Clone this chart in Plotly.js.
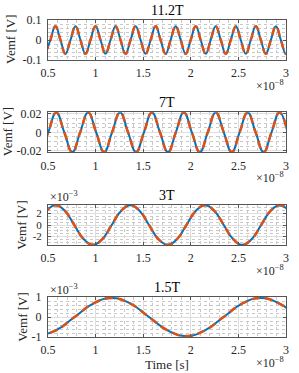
<!DOCTYPE html>
<html>
<head>
<meta charset="utf-8">
<script src="https://cdn.plot.ly/plotly-3.0.1.min.js"></script>
<style>html,body{margin:0;padding:0;background:#fff;}#chart{width:299px;height:373px;}</style>
</head>
<body>
<div id="chart"></div>
<script>
// Time in units of 1e-8 s
const time112 = [0.473,0.525,0.578,0.631,0.683,0.736,0.789,0.841,0.894,0.946,0.999,1.052,1.104,1.157,1.210,1.262,1.315,1.367,1.420,1.473,1.525,1.578,1.631,1.683,1.736,1.788,1.841,1.894,1.946,1.999,2.052,2.104,2.157,2.209,2.262,2.315,2.367,2.420,2.473,2.525,2.578,2.630,2.683,2.736,2.788,2.841,2.894,2.946,2.999,3.051];
const vemf112 = [-0.069,0,0.069,0,-0.069,0,0.069,0,-0.069,0,0.069,0,-0.069,0,0.069,0,-0.069,0,0.069,0,-0.069,0,0.069,0,-0.069,0,0.069,0,-0.069,0,0.069,0,-0.069,0,0.069,0,-0.069,0,0.069,0,-0.069,0,0.069,0,-0.069,0,0.069,0,-0.069,0];

const time7 = [0.420,0.503,0.587,0.671,0.755,0.838,0.922,1.006,1.090,1.173,1.257,1.341,1.425,1.508,1.592,1.676,1.760,1.843,1.927,2.011,2.095,2.178,2.262,2.346,2.430,2.513,2.597,2.681,2.765,2.848,2.932,3.016];
const vemf7 = [-0.0213,0,0.0213,0,-0.0213,0,0.0213,0,-0.0213,0,0.0213,0,-0.0213,0,0.0213,0,-0.0213,0,0.0213,0,-0.0213,0,0.0213,0,-0.0213,0,0.0213,0,-0.0213,0,0.0213,0];

// Vemf in units of 1e-3 V
const time3 = [0.384,0.482,0.580,0.678,0.776,0.874,0.973,1.071,1.169,1.267,1.365,1.463,1.561,1.659,1.758,1.856,1.954,2.052,2.150,2.248,2.346,2.444,2.543,2.641,2.739,2.837,2.935,3.033,3.131];
const vemf3 = [0,2.42,3.42,2.42,0,-2.42,-3.42,-2.42,0,2.42,3.42,2.42,0,-2.42,-3.42,-2.42,0,2.42,3.42,2.42,0,-2.42,-3.42,-2.42,0,2.42,3.42,2.42,0];

const time15 = [0.388,0.583,0.779,0.974,1.170,1.366,1.561,1.757,1.953,2.148,2.344,2.539,2.735,2.931,3.126];
const vemf15 = [-0.95,-0.67,0,0.67,0.95,0.67,0,-0.67,-0.95,-0.67,0,0.67,0.95,0.67,0];

const titles = ['11.2T','7T','3T','1.5T'];
const xTicks = [0.5,1,1.5,2,2.5,3];
const xTickText = ['0.5','1','1.5','2','2.5','3'];
const yTicks = [[-0.1,0,0.1],[-0.02,0,0.02],[-2,0,2],[-1,0,1]];
const yTickText = [['-0.1','0','0.1'],['-0.02','0','0.02'],['-2','0','2'],['-1','0','1']];

const series = [[time112,vemf112],[time7,vemf7],[time3,vemf3],[time15,vemf15]];
const blue = '#0072BD', orange = '#D95319';
const traces = [];
series.forEach((s,i)=>{
  const ax = i===0 ? '' : String(i+1);
  traces.push({x:s[0], y:s[1], xaxis:'x'+ax, yaxis:'y'+ax, mode:'lines', showlegend:false,
    line:{color:blue, width:2, shape:'spline', smoothing:1.3}});
  traces.push({x:s[0], y:s[1], xaxis:'x'+ax, yaxis:'y'+ax, mode:'lines', showlegend:false,
    line:{color:orange, width:2.5, dash:'8px,5px', shape:'spline', smoothing:1.3}});
});

const H = 373;
const py = p => 1 - p/H;
const boxes = [[20,60],[112.3,152.3],[205,245],[297,337]];
const yRanges = [[-0.1,0.1],[-0.0215,0.0215],[-3.45,3.45],[-1,1]];
const yMinor = [0.02,0.005,0.5,0.2];
const yTickSize = [12,12,11,12];
const font = {family:'"Liberation Serif", "DejaVu Serif", serif', size:12, color:'#262626'};

const layout = {
  width:299, height:373, margin:{l:48,r:13,t:0,b:0},
  paper_bgcolor:'#fff', plot_bgcolor:'#fff', font:font, showlegend:false,
  annotations:[]
};
const axCommon = {
  showline:true, mirror:'ticks', linecolor:'#555', linewidth:1,
  ticks:'inside', ticklen:3, tickcolor:'#555', tickwidth:1,
  showgrid:true, gridcolor:'#dedede', gridwidth:1, zeroline:false,
  tickfont:font, fixedrange:true
};
boxes.forEach((b,i)=>{
  const ax = i===0 ? '' : String(i+1);
  layout['xaxis'+ax] = Object.assign({}, axCommon, {
    anchor:'y'+ax, domain:[0,1], range:[0.5,3], tickmode:'array', tickvals:xTicks, ticktext:xTickText,
    ticklabelstandoff:2,
    minor:{dtick:0.1, tick0:0.5, showgrid:true, gridcolor:'#c8c8c8', griddash:'dot', gridwidth:1, ticks:''}
  });
  layout['yaxis'+ax] = Object.assign({}, axCommon, {
    anchor:'x'+ax, domain:[py(b[1]), py(b[0])], range:yRanges[i], tickmode:'array',
    tickvals:yTicks[i], ticktext:yTickText[i], ticklabelstandoff:3,
    tickfont:Object.assign({}, font, {size:yTickSize[i]}),
    minor:{dtick:yMinor[i], tick0:0, showgrid:true, gridcolor:'#c8c8c8', griddash:'dot', gridwidth:1, ticks:''}
  });
  layout.annotations.push({text:titles[i], xref:'paper', yref:'paper', x:0.5, y:py(b[0]-10),
    xanchor:'center', yanchor:'middle', showarrow:false, font:Object.assign({}, font, {size:14, color:'#000'})});
  layout.annotations.push({text:'×10<sup>−8</sup>', xref:'paper', yref:'paper', x:(286-48)/238, y:py(b[1]+25),
    xanchor:'right', yanchor:'middle', showarrow:false, font:font});
});
const yLabelPos = [[11,40],[7,132.3],[21.7,225],[21.7,317]];
yLabelPos.forEach(p=>{
  layout.annotations.push({text:'Vemf [V]', xref:'paper', yref:'paper', x:(p[0]-48)/238, y:py(p[1]),
    xanchor:'center', yanchor:'middle', textangle:-90, showarrow:false, font:Object.assign({}, font, {size:13})});
});
[[3,196.7],[4,289.3]].forEach(q=>{
  layout.annotations.push({text:'×10<sup>−3</sup>', xref:'paper', yref:'paper', x:0, y:py(q[1]),
    xanchor:'left', yanchor:'middle', showarrow:false, font:font});
});
layout.annotations.push({text:'Time [s]', xref:'paper', yref:'paper', x:0.5, y:py(364),
  xanchor:'center', yanchor:'middle', showarrow:false, font:Object.assign({}, font, {size:13})});

Plotly.newPlot('chart', traces, layout, {staticPlot:true, displayModeBar:false});
</script>
</body>
</html>
